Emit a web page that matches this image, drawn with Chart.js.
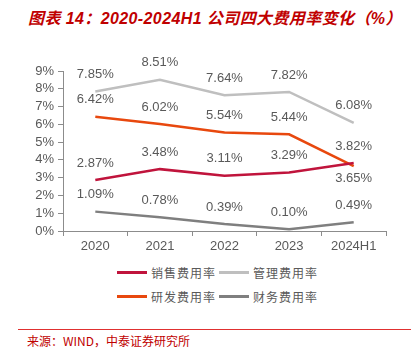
<!DOCTYPE html>
<html>
<head>
<meta charset="utf-8">
<script src="https://cdn.jsdelivr.net/npm/chart.js@4"></script>
<style>
  body { margin: 0; width: 415px; height: 352px; background: #fff; position: relative; overflow: hidden;
         font-family: "Liberation Sans", "Noto Sans CJK SC", sans-serif; }
  #title { position: absolute; left: 28px; top: 5px; font-size: 16px; font-weight: bold; font-style: italic;
           color: #C00000; white-space: nowrap; letter-spacing: 0.4px;
           font-family: "Liberation Sans", "Noto Sans CJK SC", sans-serif; }
  #wrap { position: absolute; left: 0; top: 50px; width: 415px; height: 210px; }
  .leg { position: absolute; font-size: 12px; color: #595959; font-family: "Noto Sans CJK SC", sans-serif;
         display: flex; align-items: center; white-space: nowrap; letter-spacing: 1px; }
  .leg i { display: inline-block; width: 30px; height: 3px; margin-right: 4px; }
  #rule { position: absolute; left: 18px; top: 329px; width: 393px; height: 1px; background: #E03030; }
  #src { position: absolute; left: 27px; top: 332px; font-size: 12px; color: #C00000; white-space: nowrap;
         font-family: "Noto Sans CJK SC", sans-serif; }
</style>
</head>
<body>
<div id="title">图表 14：2020-2024H1 公司四大费用率变化（%）</div>
<div id="wrap"><canvas id="chart"></canvas></div>
<div id="legend"></div>
<div id="rule"></div>
<div id="src">来源：WIND，中泰证券研究所</div>
<script>
const years = ["2020", "2021", "2022", "2023", "2024H1"];
const sales = [2.87, 3.48, 3.11, 3.29, 3.82];
const admin = [7.85, 8.51, 7.64, 7.82, 6.08];
const rnd = [6.42, 6.02, 5.54, 5.44, 3.65];
const finance = [1.09, 0.78, 0.39, 0.10, 0.49];
const seriesNames = ["销售费用率", "管理费用率", "研发费用率", "财务费用率"];
const seriesColors = ["#C0143C", "#BFBFBF", "#E8480E", "#7F7F7F"];
// label above (-1) or below (+1) each point
const labelSide = [
  [-1, -1, -1, -1, -1],
  [-1, -1, -1, -1, -1],
  [-1, -1, -1, -1, 1],
  [-1, -1, -1, -1, -1],
];

const allData = [sales, admin, rnd, finance];

const labelPlugin = {
  id: "pctLabels",
  afterDatasetsDraw(chart) {
    const ctx = chart.ctx;
    ctx.save();
    ctx.font = "13px 'Liberation Sans', Arial, sans-serif";
    ctx.fillStyle = "#595959";
    ctx.textAlign = "center";
    ctx.textBaseline = "middle";
    chart.data.datasets.forEach((ds, i) => {
      const meta = chart.getDatasetMeta(i);
      meta.data.forEach((pt, j) => {
        const side = labelSide[i][j];
        const dy = side < 0 ? -17 : 12;
        ctx.fillText(ds.data[j].toFixed(2) + "%", pt.x, pt.y + dy);
      });
    });
    ctx.restore();
  }
};

new Chart(document.getElementById("chart"), {
  type: "line",
  data: {
    labels: years,
    datasets: allData.map((d, i) => ({
      label: seriesNames[i],
      data: d,
      borderColor: seriesColors[i],
      backgroundColor: seriesColors[i],
      borderWidth: 2.5,
      pointRadius: 0,
      tension: 0,
    })),
  },
  options: {
    responsive: true,
    maintainAspectRatio: false,
    animation: false,
    layout: { padding: { top: 21, right: 29, left: 0, bottom: 0 } },
    plugins: { legend: { display: false }, tooltip: { enabled: false } },
    scales: {
      x: {
        offset: true,
        grid: { offset: true, drawOnChartArea: false, drawTicks: true, tickLength: 5, color: "#8C8C8C" },
        border: { color: "#8C8C8C", width: 1 },
        ticks: { color: "#595959", font: { size: 13, family: "'Liberation Sans', Arial" }, padding: 3 },
        afterFit(s) { s.height = 29; },
      },
      y: {
        min: 0,
        max: 9,
        grid: { drawOnChartArea: false, drawTicks: true, tickLength: 5, color: "#8C8C8C" },
        border: { color: "#8C8C8C", width: 1 },
        ticks: { stepSize: 1, autoSkip: false, color: "#595959", font: { size: 13, family: "'Liberation Sans', Arial" },
                 padding: 4, callback: v => v + "%" },
        afterFit(s) { s.width = 63; },
      },
    },
  },
  plugins: [labelPlugin],
});

// legend in two rows like the original
const legPos = [[117, 273], [219, 273], [117, 297], [219, 297]];
const legend = document.getElementById("legend");
seriesNames.forEach((n, i) => {
  const el = document.createElement("div");
  el.className = "leg";
  el.style.left = legPos[i][0] + "px";
  el.style.top = (legPos[i][1] - 9) + "px";
  el.innerHTML = '<i style="background:' + seriesColors[i] + '"></i>' + n;
  legend.appendChild(el);
});
</script>
</body>
</html>
